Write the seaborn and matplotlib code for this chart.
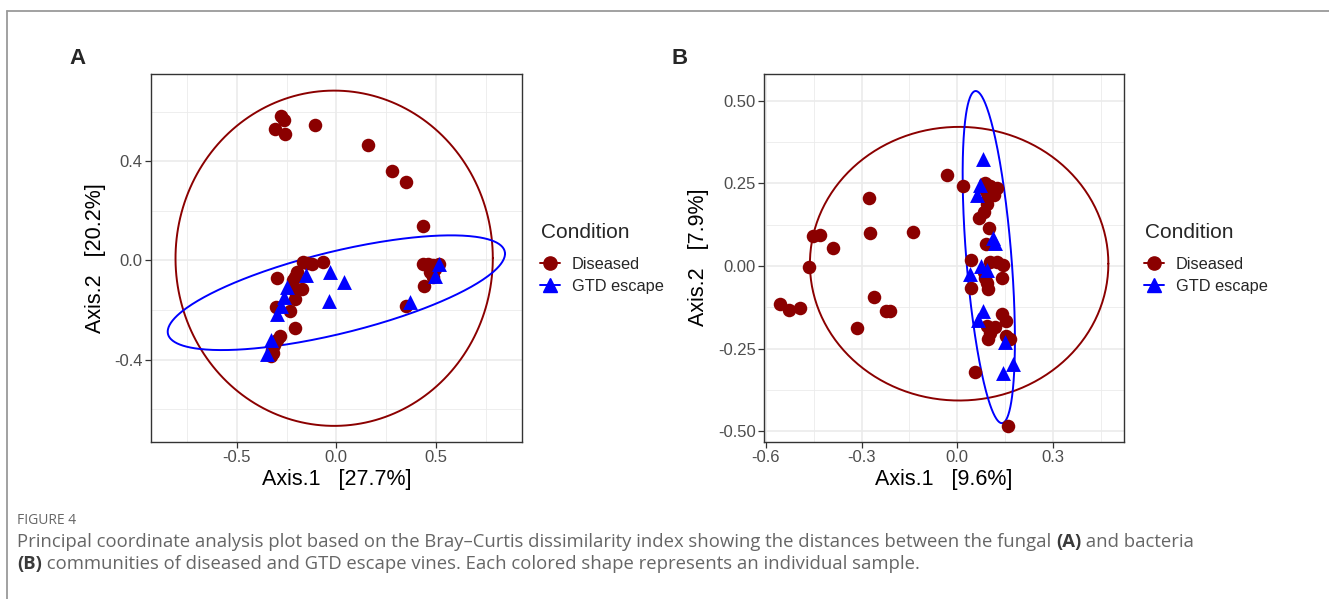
import numpy as np
import pandas as pd
import matplotlib
matplotlib.use("Agg")
import matplotlib.pyplot as plt
import seaborn as sns
from matplotlib.lines import Line2D

# ---------------- data ----------------
conditions = ["Diseased", "GTD escape"]

# Panel A (fungal)
A_dis_x = [-0.276, -0.261, -0.306, -0.259, -0.105, 0.160, 0.279, 0.351, 0.434,
           0.434, 0.458, 0.485, 0.513, 0.471, 0.496, 0.485, 0.438, 0.351,
           -0.067, -0.122, -0.147, -0.167, -0.197, -0.206, -0.217, -0.297, -0.172,
           -0.214, -0.206, -0.301, -0.231, -0.206, -0.281, -0.297, -0.314, -0.322,
           -0.327, -0.318]
A_dis_y = [0.582, 0.568, 0.531, 0.509, 0.548, 0.465, 0.360, 0.317, 0.141,
           -0.013, -0.013, -0.020, -0.013, -0.047, -0.034, -0.065, -0.104, -0.182,
           -0.007, -0.013, -0.011, -0.007, -0.047, -0.067, -0.080, -0.071, -0.114,
           -0.121, -0.155, -0.189, -0.205, -0.272, -0.303, -0.320, -0.340, -0.362,
           -0.385, -0.372]
A_esc_x = [-0.030, 0.038, -0.036, -0.150, -0.250, -0.262, -0.277, -0.300, -0.326,
           -0.350, 0.371, 0.513, 0.496]
A_esc_y = [-0.045, -0.088, -0.165, -0.057, -0.106, -0.146, -0.182, -0.214, -0.322,
           -0.377, -0.168, -0.016, -0.061]

# Panel B (bacteria)
B_dis_x = [-0.556, -0.527, -0.493, -0.465, -0.451, -0.431, -0.389, -0.313, -0.277,
           -0.274, -0.260, -0.224, -0.211, -0.138, -0.031, 0.019, 0.042, 0.043,
           0.056, 0.158,
           0.087, 0.104, 0.125, 0.090, 0.097, 0.115, 0.094, 0.084, 0.069, 0.100, 0.090,
           0.102, 0.125, 0.144, 0.084, 0.088, 0.094, 0.097, 0.140,
           0.142, 0.153, 0.094, 0.118, 0.104, 0.097, 0.153, 0.167]
B_dis_y = [-0.116, -0.133, -0.126, -0.002, 0.092, 0.094, 0.055, -0.189, 0.205,
           0.099, -0.093, -0.135, -0.135, 0.102, 0.275, 0.242, 0.018, -0.066,
           -0.320, -0.483,
           0.252, 0.242, 0.237, 0.228, 0.210, 0.215, 0.188, 0.164, 0.144, 0.114, 0.066,
           0.013, 0.013, 0.003, -0.017, -0.037, -0.050, -0.069, -0.037,
           -0.146, -0.165, -0.183, -0.185, -0.204, -0.222, -0.212, -0.222]
B_esc_x = [0.082, 0.073, 0.063, 0.113, 0.118, 0.076, 0.040, 0.092, 0.082, 0.066,
           0.149, 0.144, 0.174]
B_esc_y = [0.323, 0.245, 0.215, 0.084, 0.071, 0.000, -0.024, -0.012, -0.137, -0.164,
           -0.230, -0.324, -0.298]

# 95% ellipses (centre and covariance-like shape matrix)
A_ell_dis_center = [-0.011, 0.009]
A_ell_dis_shape = [[0.796 ** 2, 0.0], [0.0, 0.676 ** 2]]
A_ell_esc_center = [0.0, -0.13]
A_ell_esc_shape = [[0.716, 0.133], [0.133, 0.0535]]
B_ell_dis_center = [0.006, 0.007]
B_ell_dis_shape = [[0.468 ** 2, 0.0], [0.0, 0.414 ** 2]]
B_ell_esc_center = [0.099, 0.027]
B_ell_esc_shape = [[0.00672, -0.0206], [-0.0206, 0.2525]]

A_xlabel = "Axis.1   [27.7%]"
A_ylabel = "Axis.2   [20.2%]"
B_xlabel = "Axis.1   [9.6%]"
B_ylabel = "Axis.2   [7.9%]"
A_xticks = [-0.5, 0.0, 0.5]
A_yticks = [-0.4, 0.0, 0.4]
B_xticks = [-0.6, -0.3, 0.0, 0.3]
B_yticks = [-0.50, -0.25, 0.00, 0.25, 0.50]
legend_title = "Condition"

caption_head = "FIGURE 4"
caption_line1 = [("Principal coordinate analysis plot based on the Bray\u2013Curtis dissimilarity index showing the distances between the fungal ", "normal"),
                 ("(A)", "bold"), (" and bacteria", "normal")]
caption_line2 = [("(B)", "bold"), (" communities of diseased and GTD escape vines. Each colored shape represents an individual sample.", "normal")]

# ---------------- style ----------------
sns.set_theme(style="white")
plt.rcParams["font.family"] = ["Liberation Sans", "DejaVu Sans"]

colors = {"Diseased": "#8B0000", "GTD escape": "#0000FF"}
markers = {"Diseased": "o", "GTD escape": "^"}
sizes = {"Diseased": 95, "GTD escape": 115}


def make_df(dx, dy, ex, ey):
    return pd.DataFrame({
        "Axis1": list(dx) + list(ex),
        "Axis2": list(dy) + list(ey),
        "Condition": ["Diseased"] * len(dx) + ["GTD escape"] * len(ex),
    })


def draw_ellipse(ax, center, shape, color):
    L = np.linalg.cholesky(np.array(shape))
    t = np.linspace(0, 2 * np.pi, 400)
    circ = np.vstack([np.cos(t), np.sin(t)])
    pts = L @ circ + np.array(center)[:, None]
    ax.plot(pts[0], pts[1], color=color, lw=1.4, zorder=3)


def panel(ax, df, ells, xlim, ylim, xticks, yticks, xminor, yminor, xlabel, ylabel, ytickfmt):
    for cond in conditions:
        sub = df[df["Condition"] == cond]
        sns.scatterplot(data=sub, x="Axis1", y="Axis2", color=colors[cond],
                        marker=markers[cond], s=sizes[cond], linewidth=0,
                        ax=ax, zorder=4, legend=False)
    for center, shape, cond in ells:
        draw_ellipse(ax, center, shape, colors[cond])
    ax.set_xlim(*xlim)
    ax.set_ylim(*ylim)
    ax.set_xticks(xticks)
    ax.set_yticks(yticks)
    ax.set_xticks(xminor, minor=True)
    ax.set_yticks(yminor, minor=True)
    ax.set_xticklabels([f"{v:.1f}" for v in xticks])
    ax.set_yticklabels([ytickfmt.format(v) for v in yticks])
    ax.grid(True, which="major", color="#EBEBEB", lw=1.2, zorder=0)
    ax.grid(True, which="minor", color="#EBEBEB", lw=0.6, zorder=0)
    ax.set_axisbelow(True)
    for sp in ax.spines.values():
        sp.set_color("#333333")
        sp.set_linewidth(1.0)
    ax.tick_params(axis="both", which="major", length=4, width=0.9, color="#333333",
                   labelsize=12, labelcolor="#4D4D4D", pad=2, bottom=True, left=True)
    ax.tick_params(axis="both", which="minor", length=0)
    ax.set_xlabel(xlabel, fontsize=15.5, color="black", labelpad=3)
    ax.set_ylabel(ylabel, fontsize=15.5, color="black", labelpad=6)


fig = plt.figure(figsize=(13.29, 5.99), dpi=100)
axA = fig.add_axes([151 / 1329, 1 - 441.5 / 599, 370.7 / 1329, 367.5 / 599])
axB = fig.add_axes([764 / 1329, 1 - 441.5 / 599, 360.3 / 1329, 367.5 / 599])

dfA = make_df(A_dis_x, A_dis_y, A_esc_x, A_esc_y)
dfB = make_df(B_dis_x, B_dis_y, B_esc_x, B_esc_y)

panel(axA, dfA,
      [(A_ell_dis_center, A_ell_dis_shape, "Diseased"), (A_ell_esc_center, A_ell_esc_shape, "GTD escape")],
      (-0.93, 0.93), (-0.73, 0.752), A_xticks, A_yticks,
      [-0.75, -0.25, 0.25, 0.75], [-0.6, -0.2, 0.2, 0.6],
      A_xlabel, A_ylabel, "{:.1f}")
panel(axB, dfB,
      [(B_ell_dis_center, B_ell_dis_shape, "Diseased"), (B_ell_esc_center, B_ell_esc_shape, "GTD escape")],
      (-0.606, 0.524), (-0.531, 0.581), B_xticks, B_yticks,
      [-0.45, -0.15, 0.15, 0.45], [-0.375, -0.125, 0.125, 0.375],
      B_xlabel, B_ylabel, "{:.2f}")

# legends (title as separate text to match the spacing)
for ax, tx, lx in [(axA, 541, 540), (axB, 1145, 1144)]:
    fig.text(tx / 1329, 1 - 233 / 599, legend_title, fontsize=15, ha="left", va="center")
    handles = [Line2D([0], [0], color=colors[c], marker=markers[c], lw=1.4,
                      markersize=9.5 if c == "Diseased" else 10.5) for c in conditions]
    ax.legend(handles, conditions, loc="upper left",
              bbox_to_anchor=(lx / 1329, 1 - 257 / 599), bbox_transform=fig.transFigure,
              frameon=False, fontsize=11.8, handlelength=1.2,
              handletextpad=0.75, labelspacing=0.42, borderpad=0, borderaxespad=0)

# panel tags
fig.text(78 / 1329, 1 - 58 / 599, "A", fontsize=16, fontweight="bold", ha="center", va="center")
fig.text(680 / 1329, 1 - 58 / 599, "B", fontsize=16, fontweight="bold", ha="center", va="center")

# page border lines
fig.add_artist(Line2D([7 / 1329, 1.0], [1 - 11 / 599, 1 - 11 / 599], color="#9A9A9A", lw=1.3,
                      transform=fig.transFigure))
fig.add_artist(Line2D([7 / 1329, 7 / 1329], [0, 1 - 11 / 599], color="#9A9A9A", lw=1.3,
                      transform=fig.transFigure))

# caption
cap_font = ["Open Sans", "DejaVu Sans"]
fig.text(17 / 1329, 1 - 521 / 599, caption_head, fontsize=10, color="#666666",
         family=cap_font, va="center", ha="left")


def rich_line(x, y, pieces, size):
    fig.canvas.draw()
    r = fig.canvas.get_renderer()
    cx = x
    for txt, w in pieces:
        t = fig.text(cx, y, txt, fontsize=size, color="#666666" if w == "normal" else "#3A3A3A",
                     fontweight=w, family=cap_font, va="center", ha="left")
        bb = t.get_window_extent(renderer=r)
        cx = bb.x1 / fig.bbox.width


rich_line(17 / 1329, 1 - 542 / 599, caption_line1, 13.3)
rich_line(17 / 1329, 1 - 564 / 599, caption_line2, 13.3)

fig.savefig("out.png", dpi=100)
